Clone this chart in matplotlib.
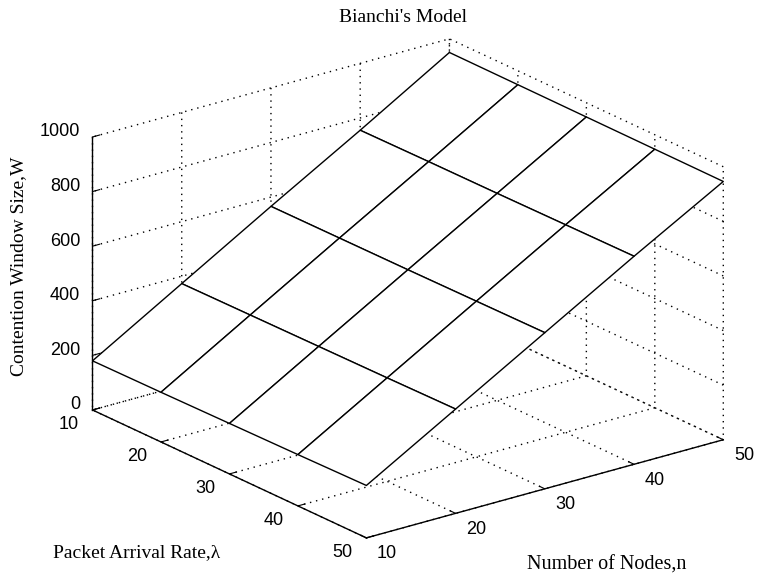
import numpy as np
import matplotlib
matplotlib.use('Agg')
import matplotlib.pyplot as plt

# Packet arrival rate (x) and number of nodes (y) sampled on the mesh
arrival_rate = [10, 20, 30, 40, 50]
num_nodes = [10, 20, 30, 40, 50]

# Contention window size W, one row per arrival rate, one column per node count
window_size = [
    [180, 373, 566, 755, 950],
    [182, 375, 567, 757, 949],
    [185, 377, 568, 758, 948],
    [188, 379, 570, 760, 947],
    [192, 382, 572, 762, 946],
]

z_ticks = [0, 200, 400, 600, 800, 1000]

plt.rcParams['font.family'] = ['Liberation Sans', 'DejaVu Sans']
plt.rcParams['grid.color'] = 'black'
plt.rcParams['grid.linestyle'] = (0, (1, 3.5))
plt.rcParams['grid.linewidth'] = 1.0

fig = plt.figure(figsize=(7.58, 5.8), dpi=100)
ax = fig.add_axes([-0.060, -0.099, 1.172, 1.172], projection='3d')
ax.set_proj_type('ortho')
ax.view_init(elev=21, azim=-37.5)
ax.set_box_aspect((1, 1, 0.65))

LAM, NN = np.meshgrid(arrival_rate, num_nodes, indexing='ij')
W = np.array(window_size, dtype=float)
ax.plot_surface(LAM, NN, W, rstride=1, cstride=1, color='white',
                edgecolor='black', linewidth=1.0, shade=False,
                antialiased=True)

ax.set_xlim(10, 50)
ax.set_ylim(10, 50)
ax.set_zlim(0, 1000)
ax.set_xticks(arrival_rate)
ax.set_yticks(num_nodes)
ax.set_zticks(z_ticks)
ax.tick_params(labelsize=13, pad=2)
ax.zaxis.set_tick_params(pad=-3)

# z axis on the front-left vertical edge
ax.zaxis.set_ticks_position('lower')

for axis in (ax.xaxis, ax.yaxis, ax.zaxis):
    axis.pane.fill = False
    axis.pane.set_edgecolor('none')
    axis.line.set_color('black')
    axis.line.set_linewidth(1.0)
    axis._axinfo['tick']['inward_factor'] = 0.0
    axis._axinfo['tick']['outward_factor'] = 0.25

# tick label alignment around the box edges
for lab in ax.get_xticklabels():
    lab.set_ha('right')
    lab.set_va('center')
for lab in ax.get_yticklabels():
    lab.set_ha('left')
    lab.set_va('center')
for lab in ax.get_zticklabels():
    lab.set_ha('right')
    lab.set_va('baseline')

serif = ['Liberation Serif', 'DejaVu Serif']
fig.text(0.532, 0.970, "Bianchi's Model", family=serif, fontsize=14,
         ha='center', va='center')
fig.text(0.024, 0.541, 'Contention Window Size,W', family=serif,
         fontsize=14, rotation=90, ha='center', va='center')
fig.text(0.180, 0.047, 'Packet Arrival Rate,\u03bb', family=serif,
         fontsize=14, ha='center', va='center')
fig.text(0.800, 0.026, 'Number of Nodes,n', family=serif, fontsize=14.5,
         ha='center', va='center')

fig.savefig('out.png', dpi=100)
